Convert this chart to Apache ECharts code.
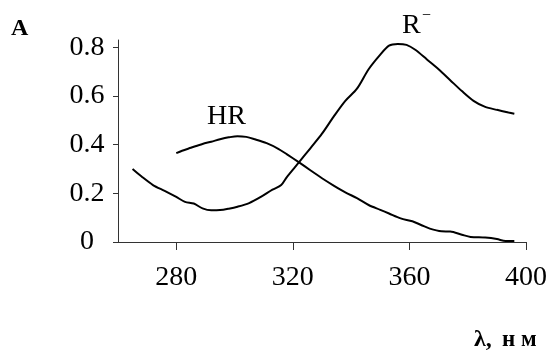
<!DOCTYPE html>
<html>
<head>
<meta charset="utf-8">
<script src="https://cdn.jsdelivr.net/npm/echarts@6/dist/echarts.min.js"></script>
<style>
html,body{margin:0;padding:0;background:#fff;}
#chart{width:553px;height:353px;}
</style>
</head>
<body>
<div id="chart"></div>
<script>
// Wavelength (nm) and absorbance for the anion R⁻
const rMinusX = [265, 268, 272, 276, 280, 283, 286, 289, 292, 295, 298, 301, 305, 309, 313, 316, 318, 322, 326, 330, 334, 338, 342, 346, 350, 353, 356, 359, 362, 366, 370, 374, 378, 382, 386, 390, 394, 396];
const rMinusY = [0.30, 0.27, 0.234, 0.21, 0.185, 0.165, 0.158, 0.138, 0.13, 0.131, 0.137, 0.145, 0.16, 0.185, 0.215, 0.234, 0.268, 0.326, 0.385, 0.445, 0.515, 0.58, 0.63, 0.71, 0.77, 0.807, 0.814, 0.81, 0.79, 0.75, 0.71, 0.665, 0.62, 0.58, 0.555, 0.543, 0.532, 0.527];
// Wavelength (nm) and absorbance for the neutral form HR
const hrX = [280, 282, 285, 289, 292, 295, 298, 301, 304, 307, 311, 315, 318, 322, 326, 330, 334, 338, 342, 346, 350, 353, 357, 361, 364, 367, 371, 374, 378, 381, 386, 390, 393, 396];
const hrY = [0.365, 0.375, 0.387, 0.403, 0.412, 0.422, 0.43, 0.435, 0.432, 0.422, 0.406, 0.383, 0.36, 0.328, 0.295, 0.262, 0.232, 0.204, 0.18, 0.152, 0.132, 0.117, 0.097, 0.085, 0.07, 0.055, 0.044, 0.043, 0.03, 0.021, 0.018, 0.012, 0.004, 0.004];
// Tick labels
const xTicks = [280, 320, 360, 400];
const yTicks = [0, 0.2, 0.4, 0.6, 0.8];

const zip = (xs, ys) => xs.map((x, i) => [x, ys[i]]);
const serif = 'Liberation Serif';
const axisCol = '#333';

const chart = echarts.init(document.getElementById('chart'), null, {renderer: 'canvas'});
chart.setOption({
  animation: false,
  backgroundColor: '#fff',
  textStyle: {fontFamily: serif},
  grid: {left: 118, right: 27, top: 40, bottom: 111},
  xAxis: {
    type: 'value', min: 260, max: 400,
    axisLine: {show: true, lineStyle: {color: axisCol, width: 1}},
    axisTick: {show: true, inside: false, length: 8, customValues: xTicks, lineStyle: {color: axisCol}},
    axisLabel: {customValues: xTicks, margin: 22, fontFamily: serif, fontSize: 28, color: '#000'},
    splitLine: {show: false}
  },
  yAxis: {
    type: 'value', min: 0, max: 0.83,
    axisLine: {show: true, lineStyle: {color: axisCol, width: 1}},
    axisTick: {show: true, inside: false, length: 5, customValues: yTicks, lineStyle: {color: axisCol}},
    axisLabel: {customValues: yTicks, margin: 31, align: 'center', fontFamily: serif, fontSize: 28, color: '#000',
      formatter: v => String(+v.toFixed(1))},
    splitLine: {show: false}
  },
  series: [
    {type: 'line', data: zip(rMinusX, rMinusY), showSymbol: false, smooth: 0.3,
     lineStyle: {color: '#000', width: 2}},
    {type: 'line', data: zip(hrX, hrY), showSymbol: false, smooth: 0.3,
     lineStyle: {color: '#000', width: 2}}
  ],
  graphic: [
    {type: 'text', left: 11, top: 17, style: {text: 'A', fontFamily: serif, fontWeight: 'bold', fontSize: 24, fill: '#000'}},
    {type: 'text', x: 207, y: 116.5, style: {text: 'HR', fontFamily: serif, fontSize: 28, fill: '#000', textVerticalAlign: 'middle'}},
    {type: 'text', x: 402, y: 25.5, style: {text: 'R', fontFamily: serif, fontSize: 28, fill: '#000', textVerticalAlign: 'middle'}},
    {type: 'text', x: 422, y: 16, style: {text: '−', fontFamily: serif, fontSize: 16, fill: '#000', textVerticalAlign: 'middle'}},
    {type: 'text', x: 474, y: 340, style: {text: 'λ,', fontFamily: serif, fontWeight: 'bold', fontSize: 24, fill: '#000', textVerticalAlign: 'middle'}},
    {type: 'text', x: 502, y: 340, style: {text: 'н м', fontFamily: serif, fontWeight: 'bold', fontSize: 23, fill: '#000', textVerticalAlign: 'middle'}}
  ]
});
</script>
</body>
</html>
